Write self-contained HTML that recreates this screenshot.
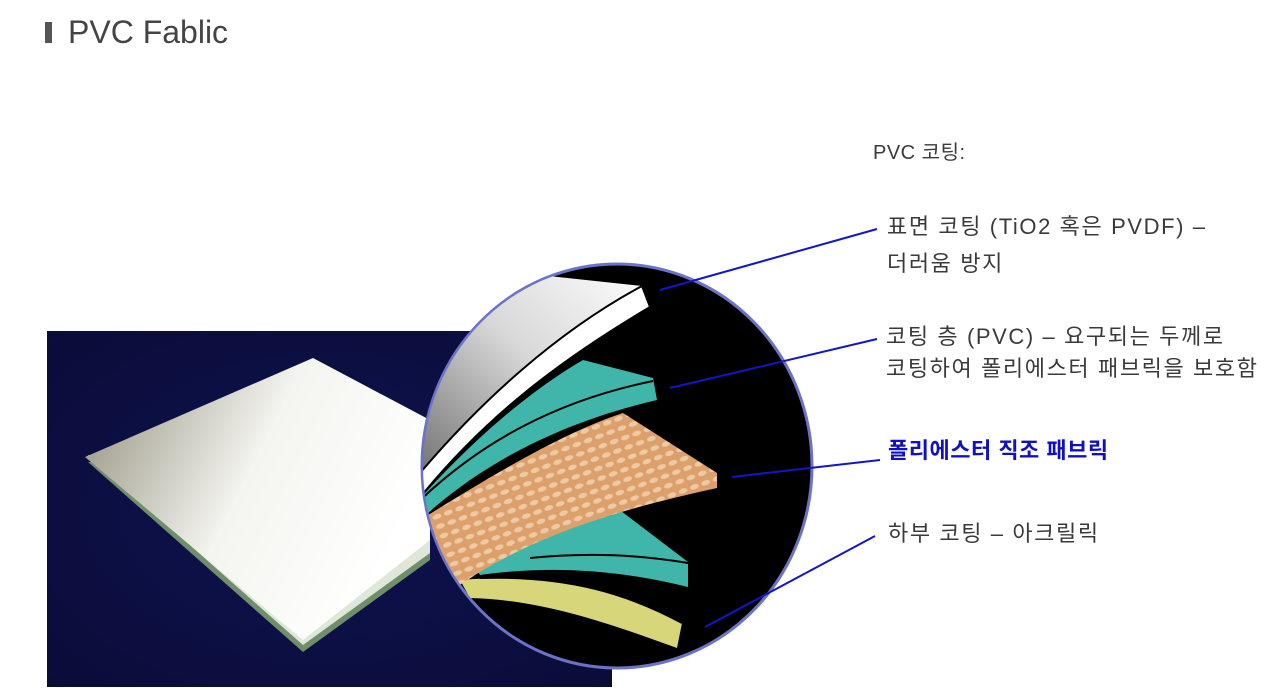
<!DOCTYPE html>
<html><head><meta charset="utf-8"><style>
body{margin:0;width:1284px;height:699px;background:#fff;position:relative;overflow:hidden;font-family:"Liberation Sans","Noto Sans CJK KR","NanumGothic",sans-serif;}
.t{position:absolute;white-space:nowrap;color:#3a3a3a;font-size:22px;line-height:26px;letter-spacing:1.6px;}
</style></head><body>
<div style="position:absolute;left:45px;top:22px;width:7px;height:21px;background:#555"></div>
<div class="t" style="left:68px;top:13px;font-size:32px;line-height:38px;color:#444;letter-spacing:0">PVC Fablic</div>

<svg width="1284" height="699" style="position:absolute;left:0;top:0">
<defs>
<linearGradient id="sh" x1="0" y1="0" x2="1" y2="0.4">
<stop offset="0" stop-color="#8f8c78"/><stop offset="0.55" stop-color="#f4f4f0"/><stop offset="1" stop-color="#ffffff"/></linearGradient>
<linearGradient id="gw" x1="0" y1="1" x2="1" y2="0">
<stop offset="0" stop-color="#666"/><stop offset="0.55" stop-color="#d8d8d8"/><stop offset="1" stop-color="#fff"/></linearGradient>
<radialGradient id="bg" cx="0.5" cy="0.5" r="0.7"><stop offset="0" stop-color="#0f1350"/><stop offset="1" stop-color="#0a0c38"/></radialGradient>
<pattern id="fab" width="12" height="10" patternUnits="userSpaceOnUse" patternTransform="rotate(-20)">
<rect width="12" height="10" fill="#dca06c"/><ellipse cx="6" cy="5" rx="4.5" ry="2.5" fill="#efc9a2"/></pattern>
<clipPath id="cc"><ellipse cx="617" cy="466" rx="194" ry="201"/></clipPath>
</defs>
<rect x="47" y="331" width="565" height="356" fill="url(#bg)"/>
<polygon points="88,462 303,652 430,560 430,470" fill="#6f8e6a"/>
<polygon points="88,455 303,645 430,553 430,462" fill="#dfe8d8"/>
<polygon points="85,457 313,358 430,420 430,540 303,640" fill="url(#sh)"/>
<ellipse cx="617" cy="466" rx="195" ry="202" fill="#000" stroke="#6b72c8" stroke-width="3"/>
<g clip-path="url(#cc)">
<path d="M400,260 L642,286 C560,330 480,400 410,485 Z" fill="url(#gw)"/>
<path d="M642,286 L650,307 C560,360 480,420 410,510 L410,485 C480,400 560,330 642,286 Z" fill="#fff" stroke="#000" stroke-width="2"/>
<path d="M410,510 C480,430 540,385 583,360 L653,378 L657,400 C570,420 480,460 410,530 Z" fill="#40b6aa"/>
<path d="M653,381 C560,400 480,440 410,510" fill="none" stroke="#000" stroke-width="2"/>
<path d="M600,495 L688,562 L688,587 C620,570 550,565 480,575 L470,560 Z" fill="#40b6aa"/>
<path d="M530,558 C590,552 640,555 688,563" fill="none" stroke="#000" stroke-width="2"/>
<path d="M460,580 C560,572 620,590 682,623 L677,648 C600,620 540,600 470,598 Z" fill="#d8d67a"/>
<path d="M480,578 C570,575 630,595 682,623" fill="none" stroke="#000" stroke-width="2"/>
<path d="M425,517 C500,470 570,430 623,413 L717,473 L717,488 C640,505 540,530 463,583 L430,600 Z" fill="url(#fab)"/>
</g>
<g stroke="#1414c8" stroke-width="2">
<line x1="660" y1="290" x2="877" y2="229"/>
<line x1="670" y1="388" x2="877" y2="339"/>
<line x1="732" y1="477" x2="880" y2="460"/>
<line x1="705" y1="627" x2="875" y2="536"/>
</g>
</svg>

<div class="t" style="left:873px;top:140px;font-size:20px;letter-spacing:0.5px">PVC 코팅:</div>
<div class="t" style="left:887px;top:214px">표면 코팅 (TiO2 혹은 PVDF) –</div>
<div class="t" style="left:887px;top:251px">더러움 방지</div>
<div class="t" style="left:886px;top:324px">코팅 층 (PVC) – 요구되는 두께로</div>
<div class="t" style="left:886px;top:356px">코팅하여 폴리에스터 패브릭을 보호함</div>
<div class="t" style="left:888px;top:438px;color:#1010c0;font-weight:bold;letter-spacing:0.5px">폴리에스터 직조 패브릭</div>
<div class="t" style="left:888px;top:521px">하부 코팅 – 아크릴릭</div>
</body></html>
